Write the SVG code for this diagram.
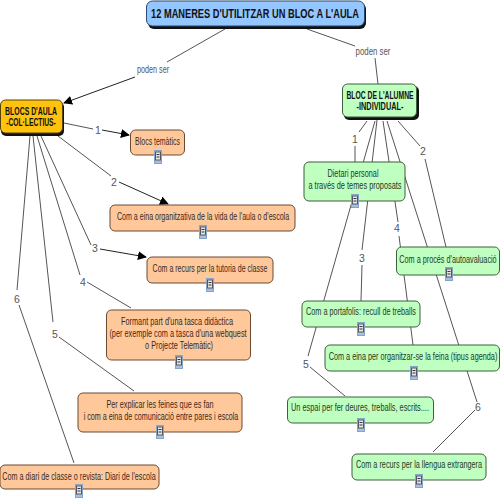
<svg xmlns="http://www.w3.org/2000/svg" width="500" height="500" viewBox="0 0 500 500">
<style>
text{font-family:"Liberation Sans",Arial,sans-serif;font-size:10.500px;fill:#3a2a1c;text-anchor:middle}
.gt{fill:#1f3a1f}
.lb{fill:#555;font-size:10.500px}
.b{font-weight:bold;fill:#111}
.c{fill:none;stroke:#555;stroke-width:1}
.a{marker-end:url(#ar);stroke:#222}
.o{fill:#ffc89b;stroke:#6b4a32;stroke-width:1}
.g{fill:#bfffbf;stroke:#3f5f3f;stroke-width:1}
</style>
<defs>
<marker id="ar" viewBox="0 0 10 10" refX="9" refY="5" markerWidth="9" markerHeight="9" markerUnits="userSpaceOnUse" orient="auto"><path d="M0 0L10 5L0 10Z" fill="#000"/></marker>
<g id="ic"><rect x="-3.500" y="-6.500" width="7" height="13" fill="#a9c0dc" stroke="#86a4c8"/><rect x="-2.500" y="-5" width="5" height="8" fill="#e8e8e0" stroke="#556"/><path d="M-1.500 -2.500H1.500M-1.500 0H1.500" stroke="#334"/></g>
</defs>
<rect width="500" height="500" fill="#fff"/>
<g id="connectors">
<path class="c" d="M225 29L167 62"/><path class="c a" d="M135 77L64 103"/>
<path class="c" d="M307 29L355 46M375 58L378 84"/>
<path class="c" d="M64 123L93 129"/><path class="c a" d="M102 130L129 135"/>
<path class="c" d="M58 136L111 176"/><path class="c a" d="M119 182L168 204"/>
<path class="c" d="M41 136L91 245"/><path class="c a" d="M100 249L146 257"/>
<path class="c" d="M37 136L80 275M87 282L131 308"/>
<path class="c" d="M33 136L53 322M59 337L134 391"/>
<path class="c" d="M30 136L17 290M19 305L74 463"/>
<path class="c" d="M367 121L359 132M355 146V162"/>
<path class="c" d="M398 121L420 146M425 159L446 247"/>
<path class="c" d="M377 120L362 250M362 265L361 301"/>
<path class="c" d="M383 121L398 222M399 236L413 345"/>
<path class="c" d="M375 121L308 356M310 367L345 396"/>
<path class="c" d="M387 121L477 402M475 410L433 452"/>
</g>
<g id="labels">
<text class="lb" transform="translate(153 73) scale(.7 1)" textLength="46" lengthAdjust="spacingAndGlyphs">poden ser</text>
<text class="lb" transform="translate(373 55) scale(.7 1)" textLength="50" lengthAdjust="spacingAndGlyphs">poden  ser</text>
<text class="lb" x="98" y="133.500">1</text><text class="lb" x="114" y="185.500">2</text><text class="lb" x="95" y="251.500">3</text>
<text class="lb" x="83" y="285.500">4</text><text class="lb" x="55" y="338">5</text><text class="lb" x="17" y="302.500">6</text>
<text class="lb" x="355" y="142.500">1</text><text class="lb" x="423" y="154.500">2</text><text class="lb" x="362" y="261.500">3</text>
<text class="lb" x="397" y="231.500">4</text><text class="lb" x="306" y="367.500">5</text><text class="lb" x="478" y="410.500">6</text>
</g>
<g id="title"><rect x="148" y="3" width="218" height="26" rx="6" fill="#111"/><rect x="146.500" y="1" width="218" height="25" rx="6" fill="#94c6ff" stroke="#2a4a70"/><text class="b" transform="translate(255 18) scale(.7 1)" style="font-size:12.500px" textLength="297" lengthAdjust="spacingAndGlyphs">12 MANERES D'UTILITZAR UN BLOC A L'AULA</text></g>
<g id="blocs"><rect x="1" y="102" width="63" height="34" rx="5" fill="#111"/><rect x="0.500" y="100" width="62" height="33" rx="5" fill="#ffc20e" stroke="#5a4500"/><text class="b" transform="translate(31 115) scale(.7 1)" textLength="74" lengthAdjust="spacingAndGlyphs">BLOCS D'AULA</text><text class="b" transform="translate(31 126) scale(.7 1)" textLength="71" lengthAdjust="spacingAndGlyphs">-COL·LECTIUS-</text></g>
<g id="alumne"><rect x="344" y="86" width="75" height="34" rx="5" fill="#111"/><rect x="342.500" y="84" width="74" height="33" rx="5" fill="#bfffbf" stroke="#3f5f3f"/><text class="b" transform="translate(380 99) scale(.7 1)" textLength="96" lengthAdjust="spacingAndGlyphs">BLOC DE L'ALUMNE</text><text class="b" transform="translate(380 110) scale(.7 1)" textLength="67" lengthAdjust="spacingAndGlyphs">-INDIVIDUAL-</text></g>
<g id="n1"><rect class="o" x="130.500" y="130" width="54" height="25" rx="5"/><text transform="translate(157.500 145) scale(.7 1)" textLength="64" lengthAdjust="spacingAndGlyphs">Blocs temàtics</text><use href="#ic" x="158" y="157"/></g>
<g id="n2"><rect class="o" x="110" y="205" width="185" height="26" rx="5"/><text transform="translate(203 220) scale(.7 1)" textLength="246" lengthAdjust="spacingAndGlyphs">Com a eina organitzativa de la vida de l'aula o d'escola</text><use href="#ic" x="203" y="232"/></g>
<g id="n3"><rect class="o" x="147" y="257" width="126" height="26" rx="5"/><text transform="translate(210 272) scale(.7 1)" textLength="164" lengthAdjust="spacingAndGlyphs">Com a recurs per la tutoria de classe</text><use href="#ic" x="210" y="285"/></g>
<g id="n4"><rect class="o" x="106.500" y="310" width="144" height="50" rx="5"/><text transform="translate(177 325) scale(.7 1)" textLength="160" lengthAdjust="spacingAndGlyphs">Formant part d'una tasca didàctica</text><text transform="translate(178 337) scale(.7 1)" textLength="196" lengthAdjust="spacingAndGlyphs">(per exemple com a tasca d'una webquest</text><text transform="translate(179 349) scale(.7 1)" textLength="97" lengthAdjust="spacingAndGlyphs">o Projecte Telemàtic)</text><use href="#ic" x="179" y="362"/></g>
<g id="n5"><rect class="o" x="78" y="393" width="164" height="39" rx="5"/><text transform="translate(160 408) scale(.7 1)" textLength="153" lengthAdjust="spacingAndGlyphs">Per explicar les feines que es fan</text><text transform="translate(161 420) scale(.7 1)" textLength="221" lengthAdjust="spacingAndGlyphs">i com a eina de comunicació entre pares i escola</text><use href="#ic" x="160" y="432"/></g>
<g id="n6"><rect class="o" x="0" y="465" width="159" height="24" rx="5"/><text transform="translate(79 480) scale(.7 1)" textLength="219" lengthAdjust="spacingAndGlyphs">Com a diari de classe o revista: Diari de l'escola</text><use href="#ic" x="79" y="491"/></g>
<g id="r1"><rect class="g" x="304" y="162" width="101" height="39" rx="5"/><text class="gt" transform="translate(353 177) scale(.7 1)" textLength="73" lengthAdjust="spacingAndGlyphs">Dietari personal</text><text class="gt" transform="translate(355 189) scale(.7 1)" textLength="133" lengthAdjust="spacingAndGlyphs">a través de temes proposats</text><use href="#ic" x="355" y="201"/></g>
<g id="r2"><rect class="g" x="396.500" y="247" width="103" height="28" rx="5"/><text class="gt" transform="translate(448 263) scale(.7 1)" textLength="139" lengthAdjust="spacingAndGlyphs">Com a procés d'autoavaluació</text><use href="#ic" x="449" y="274"/></g>
<g id="r3"><rect class="g" x="302" y="301" width="118" height="26" rx="5"/><text class="gt" transform="translate(361 315) scale(.7 1)" textLength="157" lengthAdjust="spacingAndGlyphs">Com a portafolis: recull de treballs</text><use href="#ic" x="361" y="329"/></g>
<g id="r4"><rect class="g" x="325" y="345" width="174.500" height="26" rx="5"/><text class="gt" transform="translate(413 360) scale(.7 1)" textLength="241" lengthAdjust="spacingAndGlyphs">Com a eina per organitzar-se la feina (tipus agenda)</text><use href="#ic" x="414" y="373"/></g>
<g id="r5"><rect class="g" x="287.500" y="397" width="146" height="26" rx="5"/><text class="gt" transform="translate(360 411) scale(.7 1)" textLength="197" lengthAdjust="spacingAndGlyphs">Un espai per fer deures, treballs, escrits....</text><use href="#ic" x="361" y="425"/></g>
<g id="r6"><rect class="g" x="352" y="454" width="134" height="26" rx="5"/><text class="gt" transform="translate(419 468) scale(.7 1)" textLength="180" lengthAdjust="spacingAndGlyphs">Com a recurs per la llengua extrangera</text><use href="#ic" x="419" y="481"/></g>
</svg>
